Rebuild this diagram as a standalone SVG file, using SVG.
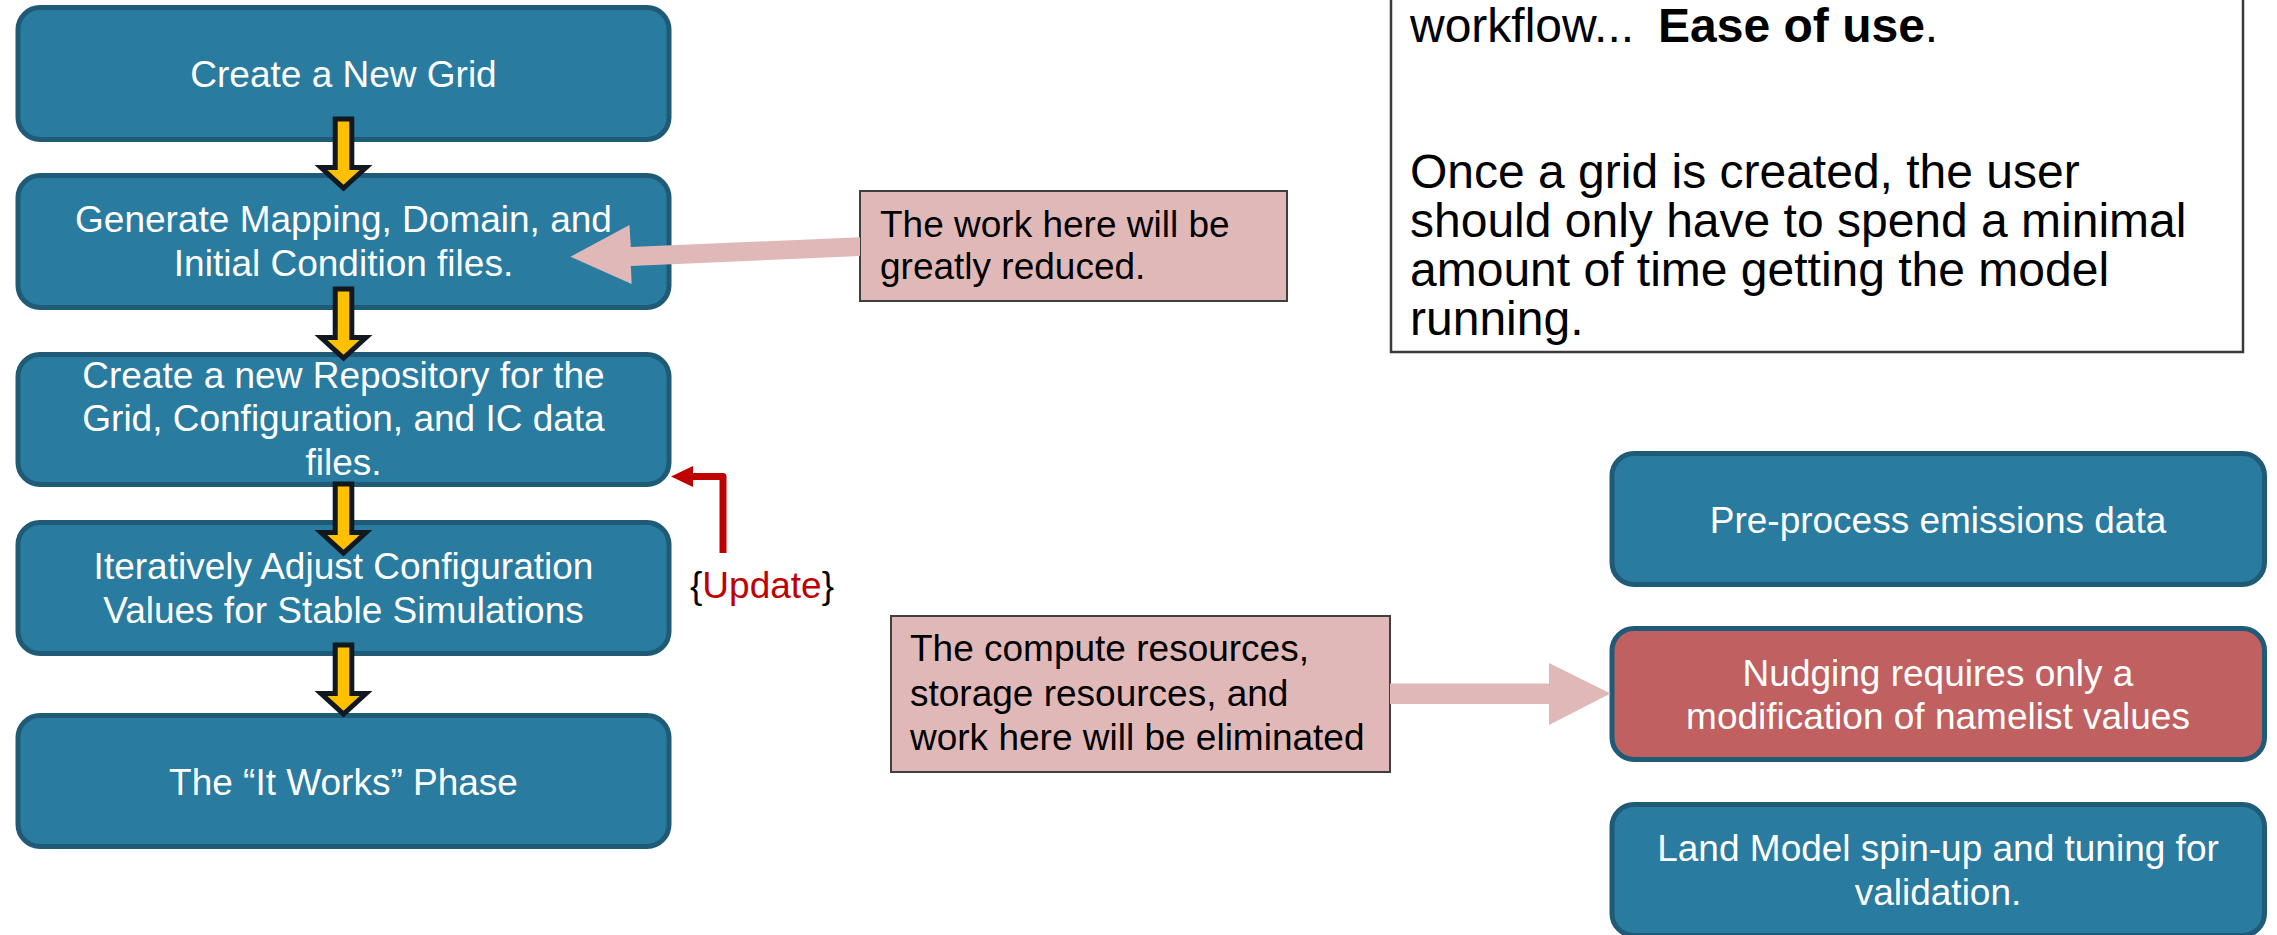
<svg xmlns="http://www.w3.org/2000/svg" width="2277" height="935" viewBox="0 0 2277 935">
<style>
.box{fill:#2A7BA0;stroke:#1F5A76;stroke-width:5}
.redbox{fill:#C06060;stroke:#1F5A76;stroke-width:5}
.wt{font-family:"Liberation Sans",Arial,sans-serif;font-size:37px;fill:#FFFFFF;text-anchor:middle}
.bt{font-family:"Liberation Sans",Arial,sans-serif;font-size:37px;fill:#000000}
.big{font-family:"Liberation Sans",Arial,sans-serif;font-size:48px;fill:#000000}
.note{fill:#E0B8B8;stroke:#3F3F3F;stroke-width:2}
.ya{fill:#FFC000;stroke:#111820;stroke-width:5;stroke-linejoin:miter}
.pa{fill:#E0B8B8;stroke:none}
</style>
<defs>
<polygon id="yarrow" points="-8.3,0 8.3,0 8.3,48.5 22.5,48.5 0,69 -22.5,48.5 -8.3,48.5"/>
</defs>
<rect width="2277" height="935" fill="#FFFFFF"/>

<g id="note-top">
<rect x="1391" y="-20" width="852" height="372" fill="#FFFFFF" stroke="#3A3A3A" stroke-width="2.5"/>
<text class="big" x="1410" y="42">workflow...<tspan dx="24" font-weight="bold">Ease of use</tspan>.</text>
<text class="big" x="1410" y="188">Once a grid is created, the user</text>
<text class="big" x="1410" y="237">should only have to spend a minimal</text>
<text class="big" x="1410" y="286">amount of time getting the model</text>
<text class="big" x="1410" y="335">running.</text>
</g>

<g id="n1">
<rect class="box" x="18" y="7.5" width="651" height="132" rx="22"/>
<text class="wt" x="343.5" y="87">Create a New Grid</text>
</g>
<g id="n2">
<rect class="box" x="18" y="175.5" width="651" height="132" rx="22"/>
<text class="wt" x="343.5" y="232">Generate Mapping, Domain, and</text>
<text class="wt" x="343.5" y="276">Initial Condition files.</text>
</g>
<g id="n3">
<rect class="box" x="18" y="354.5" width="651" height="130" rx="22"/>
<text class="wt" x="343.5" y="388">Create a new Repository for the</text>
<text class="wt" x="343.5" y="431">Grid, Configuration, and IC data</text>
<text class="wt" x="343.5" y="475">files.</text>
</g>
<g id="n4">
<rect class="box" x="18" y="522.5" width="651" height="131" rx="22"/>
<text class="wt" x="343.5" y="579">Iteratively Adjust Configuration</text>
<text class="wt" x="343.5" y="623">Values for Stable Simulations</text>
</g>
<g id="n5">
<rect class="box" x="18" y="715.5" width="651" height="131" rx="22"/>
<text class="wt" x="343.5" y="795">The “It Works” Phase</text>
</g>

<g id="r1">
<rect class="box" x="1612" y="453.5" width="652.5" height="131" rx="22"/>
<text class="wt" x="1938" y="533">Pre-process emissions data</text>
</g>
<g id="r2">
<rect class="redbox" x="1612" y="628.5" width="652.5" height="131" rx="22"/>
<text class="wt" x="1938" y="686">Nudging requires only a</text>
<text class="wt" x="1938" y="729">modification of namelist values</text>
</g>
<g id="r3">
<rect class="box" x="1612" y="804.5" width="652.5" height="131" rx="22"/>
<text class="wt" x="1938" y="861">Land Model spin-up and tuning for</text>
<text class="wt" x="1938" y="905">validation.</text>
</g>

<g id="note1">
<rect class="note" x="860" y="191" width="427" height="110"/>
<text class="bt" x="880" y="237">The work here will be</text>
<text class="bt" x="880" y="279">greatly reduced.</text>
</g>
<g id="note2">
<rect class="note" x="891" y="616" width="499" height="156"/>
<text class="bt" x="910" y="661">The compute resources,</text>
<text class="bt" x="910" y="705.5">storage resources, and</text>
<text class="bt" x="910" y="750">work here will be eliminated</text>
</g>

<g id="connectors">
<use href="#yarrow" class="ya" x="343.5" y="119"/>
<use href="#yarrow" class="ya" x="343.5" y="289"/>
<use href="#yarrow" class="ya" x="343.5" y="484"/>
<use href="#yarrow" class="ya" x="343.5" y="645"/>
<polygon class="pa" points="860,237.3 630.8,246.9 629.5,225 570.5,256.7 631.7,284 630.8,265.9 860,256"/>
<polygon class="pa" points="1390,683.5 1549,683.5 1549,663 1610.5,693.5 1549,725 1549,704 1390,704"/>
<path d="M723,553 L723,476.5 L691,476.5" fill="none" stroke="#C00000" stroke-width="7" stroke-linejoin="round"/>
<polygon points="693,466 671,476.5 693,487" fill="#C00000"/>
<text class="bt" x="690" y="598">{<tspan fill="#C00000">Update</tspan>}</text>
</g>
</svg>
